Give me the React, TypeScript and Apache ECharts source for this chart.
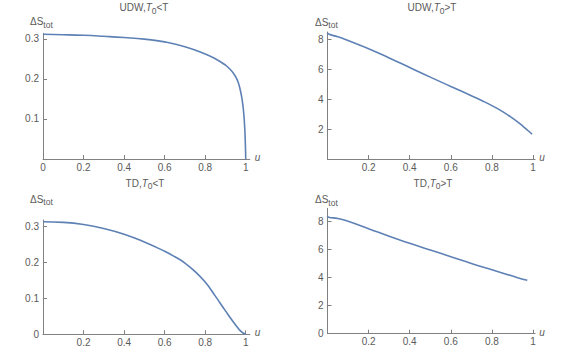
import React, { useEffect, useRef } from "react";
import * as echarts from "echarts";

// ---- data ----
const udwLowU = [0, 0.1, 0.2, 0.3, 0.4, 0.5, 0.6, 0.7, 0.8, 0.85, 0.9, 0.92, 0.94, 0.955, 0.965, 0.975, 0.983, 0.988, 0.993, 0.997, 1];
const udwLowS = [0.3115, 0.3105, 0.309, 0.3065, 0.3035, 0.2995, 0.2925, 0.2805, 0.2625, 0.2505, 0.2345, 0.2255, 0.2135, 0.201, 0.188, 0.168, 0.145, 0.125, 0.095, 0.055, 0];

const udwHighU = [0, 0.005, 0.05, 0.1, 0.2, 0.3, 0.4, 0.5, 0.6, 0.7, 0.75, 0.8, 0.85, 0.9, 0.95, 0.975, 0.995];
const udwHighS = [8.42, 8.33, 8.15, 7.9, 7.36, 6.74, 6.1, 5.46, 4.84, 4.22, 3.9, 3.56, 3.18, 2.72, 2.2, 1.9, 1.65];

const tdLowU = [0, 0.1, 0.2, 0.3, 0.4, 0.5, 0.6, 0.65, 0.7, 0.75, 0.8, 0.85, 0.9, 0.95, 0.975, 1];
const tdLowS = [0.3128, 0.311, 0.305, 0.294, 0.278, 0.2565, 0.2305, 0.2155, 0.198, 0.174, 0.145, 0.106, 0.065, 0.026, 0.009, 0];

const tdHighU = [0, 0.005, 0.05, 0.1, 0.2, 0.3, 0.4, 0.5, 0.6, 0.7, 0.8, 0.9, 0.95, 0.972];
const tdHighS = [8.38, 8.28, 8.2, 8.0, 7.47, 6.93, 6.43, 5.95, 5.48, 5.0, 4.55, 4.1, 3.88, 3.8];

const xTicksFirst = [0, 0.2, 0.4, 0.6, 0.8, 1];
const xTicks = [0.2, 0.4, 0.6, 0.8, 1];
const yTicksLowA = [0.1, 0.2, 0.3];
const yTicksLowB = [0, 0.1, 0.2, 0.3];
const yTicksHighA = [2, 4, 6, 8];
const yTicksHighB = [0, 2, 4, 6, 8];

const titles = [
  { family: "UDW", rel: "<" },
  { family: "UDW", rel: ">" },
  { family: "TD", rel: "<" },
  { family: "TD", rel: ">" },
];

const FONT = "'Liberation Sans', Arial, sans-serif";
const LINE = "#5e81b5";
const AXIS = "#808080";
const LABEL = "#5a5a5a";

function pairs(u: number[], s: number[]) {
  return u.map((x, i) => [x, s[i]]);
}

export default function App() {
  const ref = useRef<HTMLDivElement>(null);
  useEffect(() => {
    if (!ref.current) return;
    const chart = echarts.init(ref.current, undefined, { renderer: "svg" });

    const grids = [
      { left: 43, top: 33.3, width: 206.8, height: 125.7 },
      { left: 327.5, top: 32, width: 207.6, height: 127 },
      { left: 43, top: 220, width: 206.8, height: 114.3 },
      { left: 327.5, top: 208.3, width: 207.6, height: 125.4 },
    ];
    const xMax = [1.02, 1.01, 1.02, 1.01];
    const yMax = [0.314, 8.47, 0.3175, 8.92];
    const xT = [xTicksFirst, xTicks, xTicks, xTicks];
    const yT = [yTicksLowA, yTicksHighA, yTicksLowB, yTicksHighB];
    const data = [
      pairs(udwLowU, udwLowS),
      pairs(udwHighU, udwHighS),
      pairs(tdLowU, tdLowS),
      pairs(tdHighU, tdHighS),
    ];

    const axisCommon = {
      axisLine: { show: true, onZero: false, lineStyle: { color: AXIS, width: 1 } },
      splitLine: { show: false },
    };

    const xAxis = grids.map((_, i) => ({
      type: "value",
      gridIndex: i,
      min: 0,
      max: xMax[i],
      ...axisCommon,
      axisTick: { show: true, inside: true, length: 4, customValues: xT[i], lineStyle: { color: AXIS } },
      axisLabel: {
        show: true,
        customValues: xT[i],
        margin: 3,
        color: LABEL,
        fontSize: 10,
        fontFamily: FONT,
      },
    }));

    const yAxis = grids.map((_, i) => ({
      type: "value",
      gridIndex: i,
      min: 0,
      max: yMax[i],
      ...axisCommon,
      axisTick: { show: true, inside: true, length: 4, customValues: yT[i], lineStyle: { color: AXIS } },
      axisLabel: {
        show: true,
        customValues: yT[i],
        margin: 4,
        color: LABEL,
        fontSize: 10,
        fontFamily: FONT,
      },
    }));

    const series = data.map((d, i) => ({
      type: "line",
      xAxisIndex: i,
      yAxisIndex: i,
      data: d,
      showSymbol: false,
      smooth: true,
      lineStyle: { color: LINE, width: 1.6 },
      clip: false,
    }));

    const titlePos = [
      [144, 7.5],
      [432, 7.5],
      [145, 183.3],
      [433, 183.3],
    ];
    const yNamePos = [
      [30, 21.5],
      [315, 22],
      [30, 199],
      [315, 199.5],
    ];
    const uPos = [
      [257.5, 157.5],
      [542, 157.5],
      [257.5, 332.5],
      [542, 332.5],
    ];

    const rich = {
      m: { fontSize: 10, fontFamily: FONT, fill: LABEL, lineHeight: 15, verticalAlign: "middle" },
      i: { fontSize: 10, fontFamily: FONT, fill: LABEL, fontStyle: "italic", lineHeight: 15, verticalAlign: "middle" },
      sub: { fontSize: 8.5, fontFamily: FONT, fill: LABEL, lineHeight: 15, verticalAlign: "bottom" },
    };

    const graphic: any[] = [];
    titles.forEach((t, i) => {
      graphic.push({
        type: "text",
        x: titlePos[i][0],
        y: titlePos[i][1],
        style: {
          text: `{m|${t.family},}{i|T}{sub|0}{m|${t.rel}T}`,
          rich,
          align: "center",
          verticalAlign: "middle",
        },
      });
      graphic.push({
        type: "text",
        x: yNamePos[i][0],
        y: yNamePos[i][1],
        style: {
          text: `{m|ΔS}{sub|tot}`,
          rich,
          align: "left",
          verticalAlign: "middle",
        },
      });
      graphic.push({
        type: "text",
        x: uPos[i][0],
        y: uPos[i][1],
        style: {
          text: "u",
          fontSize: 10,
          fontFamily: FONT,
          fontStyle: "italic",
          fill: LABEL,
          align: "center",
          verticalAlign: "middle",
        },
      });
    });

    chart.setOption({
      animation: false,
      backgroundColor: "#ffffff",
      grid: grids,
      xAxis,
      yAxis,
      series,
      graphic,
    } as any);

    return () => chart.dispose();
  }, []);

  return (
    <div
      ref={ref}
      style={{ position: "fixed", left: 0, top: 0, width: 576, height: 352, background: "#fff" }}
    />
  );
}
